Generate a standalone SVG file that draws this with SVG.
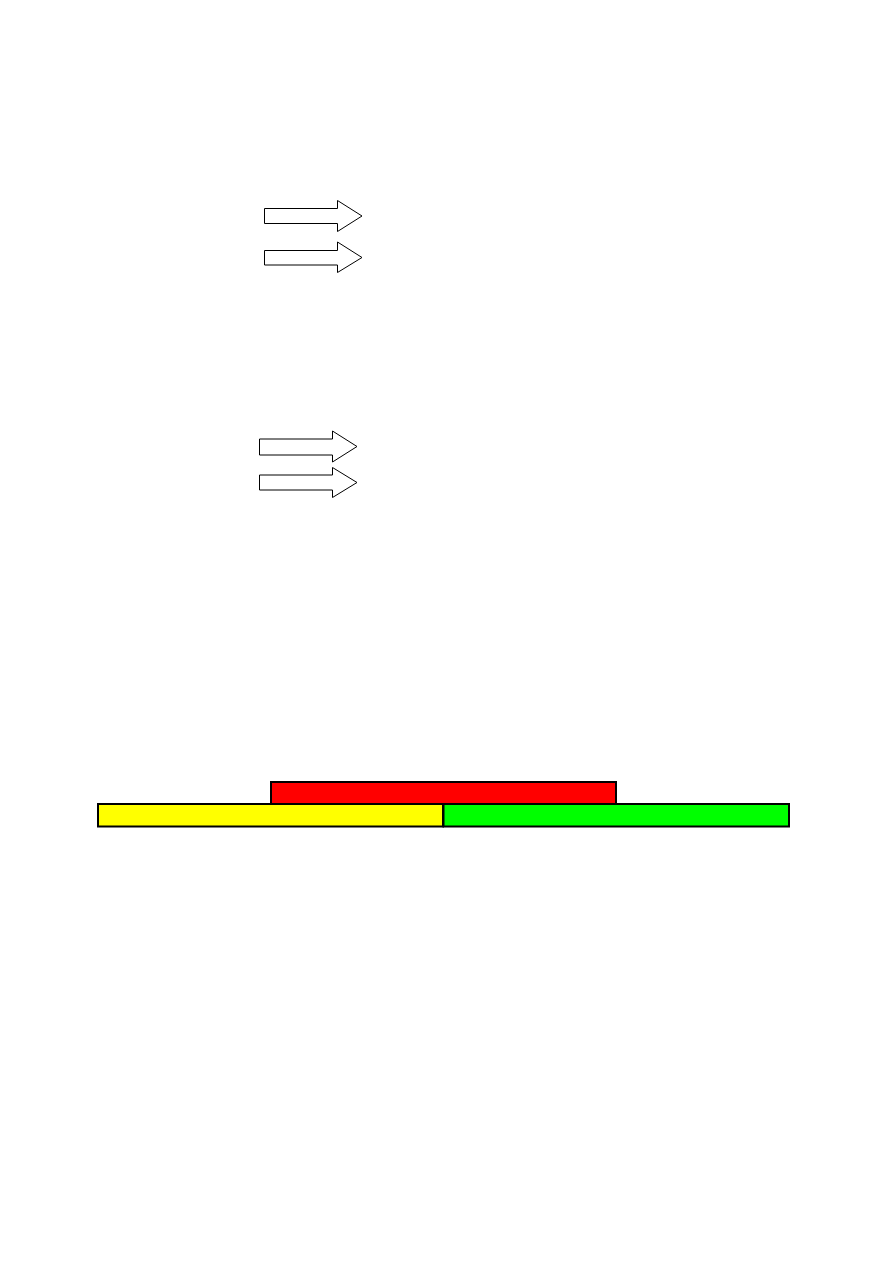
<svg xmlns="http://www.w3.org/2000/svg" width="893" height="1263" viewBox="0 0 893 1263">
<style>
.arr{fill:#fff;stroke:#000;stroke-width:1}
.bar{stroke:#000;stroke-width:2}
</style>
<rect width="893" height="1263" fill="#fff"/>
<g id="arrow1"><polygon class="arr" points="264.5,208.5 337.5,208.5 337.5,200.5 362,216 337.5,231.5 337.5,223.5 264.5,223.5"/></g>
<g id="arrow2"><polygon class="arr" points="264.5,250.5 337.5,250.5 337.5,242 362,257.5 337.5,272.5 337.5,265 264.5,265"/></g>
<g id="arrow3"><polygon class="arr" points="259.5,439 332.5,439 332.5,431 357,446.5 332.5,462 332.5,455 259.5,455"/></g>
<g id="arrow4"><polygon class="arr" points="259.5,475 332.5,475 332.5,467.5 357,482.5 332.5,497.5 332.5,490 259.5,490"/></g>
<g id="red"><rect class="bar" x="271" y="782" width="345" height="22" fill="#ff0000"/></g>
<g id="yellow"><rect class="bar" x="98" y="804" width="345" height="22.5" fill="#ffff00"/></g>
<g id="green"><rect class="bar" x="443.5" y="804" width="345.5" height="22.5" fill="#00ff00"/></g>
<g id="connectors"></g>
</svg>
